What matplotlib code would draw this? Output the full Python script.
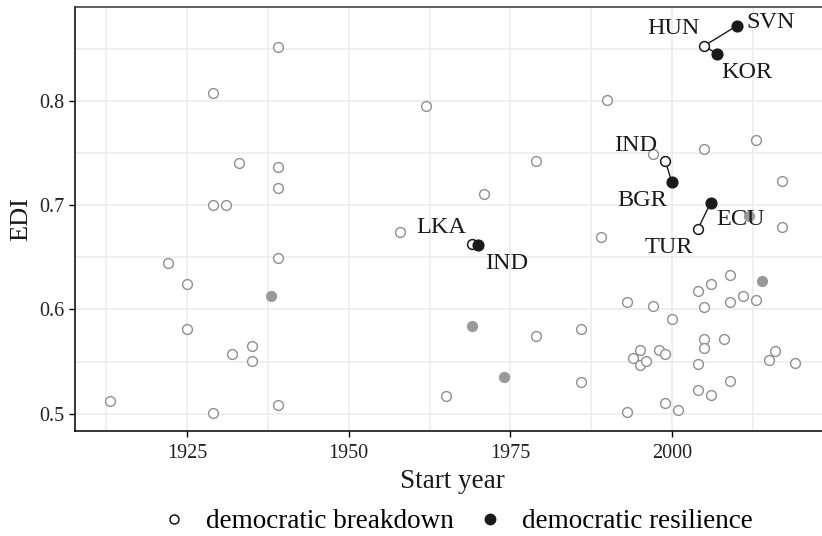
import matplotlib

matplotlib.use("Agg")
import matplotlib.pyplot as plt
from matplotlib.lines import Line2D
from matplotlib.ticker import MultipleLocator

plt.rcParams["font.family"] = ["Liberation Serif", "DejaVu Serif"]

# background cases (grey)
BD_YEAR = [1913, 1922, 1925, 1925, 1929, 1929, 1929, 1931, 1932, 1933, 1935, 1935,
           1939, 1939, 1939, 1939, 1939, 1958, 1962, 1965, 1971, 1979, 1979, 1986,
           1986, 1989, 1990, 1993, 1993, 1994, 1995, 1995, 1996, 1997, 1997, 1998,
           1999, 1999, 2000, 2001, 2004, 2004, 2004, 2005, 2005, 2005, 2005, 2006,
           2006, 2008, 2009, 2009, 2009, 2011, 2013, 2013, 2015, 2016, 2017, 2017, 2019]
BD_EDI = [0.512, 0.645, 0.624, 0.581, 0.808, 0.700, 0.501, 0.700, 0.557, 0.741, 0.565, 0.551,
          0.852, 0.737, 0.717, 0.649, 0.508, 0.674, 0.795, 0.517, 0.711, 0.742, 0.575, 0.581,
          0.530, 0.670, 0.801, 0.607, 0.502, 0.553, 0.561, 0.547, 0.551, 0.749, 0.603, 0.561,
          0.557, 0.510, 0.591, 0.504, 0.618, 0.548, 0.523, 0.754, 0.602, 0.572, 0.563, 0.624,
          0.518, 0.572, 0.633, 0.607, 0.531, 0.613, 0.763, 0.609, 0.552, 0.560, 0.723, 0.679, 0.549]
RES_YEAR = [1938, 1969, 1974, 2012, 2014]
RES_EDI = [0.613, 0.584, 0.535, 0.690, 0.627]

# highlighted cases
HL_CODE = ["LKA", "IND", "IND", "BGR", "TUR", "ECU", "HUN", "SVN", "KOR"]
HL_YEAR = [1969, 1970, 1999, 2000, 2004, 2006, 2005, 2010, 2007]
HL_EDI = [0.663, 0.6615, 0.742, 0.722, 0.677, 0.7025, 0.853, 0.872, 0.845]
HL_TYPE = ["bd", "res", "bd", "res", "bd", "res", "bd", "res", "res"]
# label offsets in pixels (dx, dy)
HL_OFF = [(-30, 16), (29, -18), (-30, 16), (-30, -18), (-29, -18), (30, -17),
          (-31, 17), (34, 3), (30, -18)]
PAIRS = [(0, 1), (2, 3), (4, 5), (6, 7), (6, 8)]

fig = plt.figure(figsize=(8.22, 5.36), dpi=100)
# panel runs slightly past the right edge, as in the original export
ax = fig.add_axes([75.3 / 822, 1 - 430.7 / 536, (829 - 75.3) / 822, (430.7 - 6.7) / 536])

ax.set_xlim(1907.7, 2024.3)
ax.set_ylim(0.4837, 0.8905)
ax.xaxis.set_major_locator(MultipleLocator(25))
ax.xaxis.set_minor_locator(MultipleLocator(12.5))
ax.yaxis.set_major_locator(MultipleLocator(0.1))
ax.yaxis.set_minor_locator(MultipleLocator(0.05))
ax.grid(which="major", color="#ebebeb", lw=1.1)
ax.grid(which="minor", color="#ebebeb", lw=1.1)
ax.set_axisbelow(True)
ax.tick_params(which="minor", length=0)
ax.tick_params(which="major", length=4, width=1, color="black", labelsize=14.5,
               labelcolor="#222222", pad=4)
ax.tick_params(axis="x", which="major", pad=5.5)
ax.set_yticks([0.5, 0.6, 0.7, 0.8])
ax.set_yticklabels(["0.5", "0.6", "0.7", "0.8"])

for s in ("left", "bottom"):
    ax.spines[s].set_color("black")
    ax.spines[s].set_linewidth(1.1)
for s in ("top", "right"):
    ax.spines[s].set_color("#333333")
    ax.spines[s].set_linewidth(1.1)

ax.scatter(BD_YEAR, BD_EDI, s=50, facecolors="white", edgecolors="#8f8f8f", linewidths=1.0, zorder=2)
ax.scatter(RES_YEAR, RES_EDI, s=50, facecolors="#999999", edgecolors="#999999", linewidths=1.0, zorder=2)

for a, b in PAIRS:
    ax.plot([HL_YEAR[a], HL_YEAR[b]], [HL_EDI[a], HL_EDI[b]], color="#1a1a1a", lw=1.0, zorder=3)

for code, yr, edi, t, off in zip(HL_CODE, HL_YEAR, HL_EDI, HL_TYPE, HL_OFF):
    if t == "bd":
        ax.scatter([yr], [edi], s=50, facecolors="white", edgecolors="#1a1a1a", linewidths=1.1, zorder=4)
    else:
        ax.scatter([yr], [edi], s=60, facecolors="#1a1a1a", edgecolors="#1a1a1a", linewidths=1.0, zorder=4)
    ax.annotate(code, (yr, edi), xytext=off, textcoords="offset pixels",
                ha="center", va="center", fontsize=17.5, color="#1a1a1a", zorder=5)

ax.set_xlabel("Start year", fontsize=19.5, color="#1a1a1a", labelpad=4.5)
ax.set_ylabel("EDI", fontsize=19, color="#1a1a1a", labelpad=4.5)

handles = [
    Line2D([], [], ls="", marker="o", ms=6.5, mfc="white", mec="black", mew=1.0),
    Line2D([], [], ls="", marker="o", ms=7.5, mfc="#1a1a1a", mec="#1a1a1a"),
]
fig.legend(handles, ["democratic breakdown", "democratic resilience"], loc="center",
           bbox_to_anchor=(456.6 / 822, 1 - 522 / 536), ncol=2, frameon=False,
           fontsize=19.5, handletextpad=0.67, columnspacing=0.86, handlelength=1.0,
           borderpad=0.2)

fig.savefig("out.png", dpi=100)
